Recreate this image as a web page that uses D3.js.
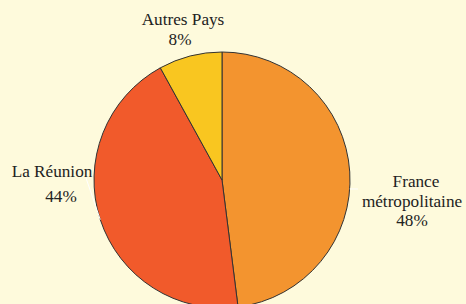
<!DOCTYPE html>
<head>
  <meta charset="utf-8">
  <script type="text/javascript" src="https://d3js.org/d3.v7.min.js"></script>
</head>
<body style="margin:0">
  <script>
    // data
    var categories = ["France métropolitaine", "La Réunion", "Autres Pays"];
    var shares = [48, 44, 8];
    var colors = ["#F3942F", "#F15A2B", "#F9C620"];

    // label lines, one entry per category (layout only)
    var labelLines = [
      [["France", 416, 187], ["métropolitaine", 412, 207], ["48%", 412, 226]],
      [["La Réunion", 52, 177], ["44%", 61, 202]],
      [["Autres Pays", 183, 25], ["8%", 180, 45]]
    ];
    // leader lines: label end point and where (fraction of slice) it touches the pie
    var leaders = [
      { from: [358, 189], at: 0.544 },
      { from: [86, 178], at: 0.5 },
      null
    ];

    var W = 466, H = 304, cx = 222, cy = 180, R = 128;

    var svg = d3.select("body").append("svg")
      .attr("width", W)
      .attr("height", H);

    svg.append("rect").attr("width", W).attr("height", H).attr("fill", "#FEFADC");

    var pie = d3.pie().sort(null).value(function(d) { return d; });
    var arcs = pie(shares);
    var arc = d3.arc().innerRadius(0).outerRadius(R);

    var g = svg.append("g").attr("transform", "translate(" + cx + "," + cy + ")");

    g.selectAll("path")
      .data(arcs)
      .enter().append("path")
      .attr("d", arc)
      .attr("fill", function(d, i) { return colors[i]; })
      .attr("stroke", "#333")
      .attr("stroke-width", 1);

    // faint leader lines
    arcs.forEach(function(d, i) {
      var l = leaders[i];
      if (!l) return;
      var a = d.startAngle + (d.endAngle - d.startAngle) * l.at;
      var px = cx + R * Math.sin(a), py = cy - R * Math.cos(a);
      svg.append("line")
        .attr("x1", l.from[0]).attr("y1", l.from[1])
        .attr("x2", px).attr("y2", py)
        .attr("stroke", "#ffffff")
        .attr("stroke-width", 1);
    });

    labelLines.forEach(function(lines) {
      lines.forEach(function(t) {
        svg.append("text")
          .attr("x", t[1])
          .attr("y", t[2])
          .attr("text-anchor", "middle")
          .attr("font-size", 17.2)
          .style("font-family", "'Liberation Serif'")
          .attr("fill", "#222")
          .text(t[0]);
      });
    });
  </script>
</body>
